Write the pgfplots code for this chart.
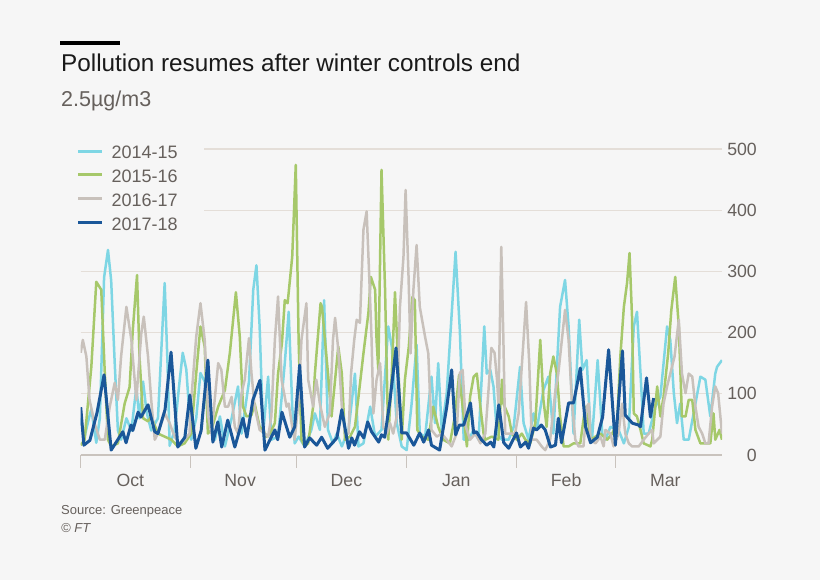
\documentclass[border=0pt]{standalone}
\usepackage{fontspec}
\setmainfont{Liberation Sans}
\usepackage{pgfplots}
\pgfplotsset{compat=1.18}
\definecolor{bgc}{HTML}{F6F6F6}
\definecolor{cA}{HTML}{7ED6E4}
\definecolor{cB}{HTML}{A6C86A}
\definecolor{cC}{HTML}{C8C1BB}
\definecolor{cD}{HTML}{1A5799}
\definecolor{gridc}{HTML}{E4DED8}
\definecolor{axisc}{HTML}{C9C3BD}
\definecolor{grayt}{HTML}{66605C}
\definecolor{titlec}{HTML}{1A1A1A}
\begin{document}
\begin{tikzpicture}[x=1bp,y=1bp]
\fill[bgc] (0,0) rectangle (820,580);
\useasboundingbox (0,0) rectangle (820,580);
\fill[black] (60,535) rectangle (120,539);
\node[anchor=base west, inner sep=0pt, font=\fontsize{24.3bp}{28bp}\selectfont, text=titlec] at (61,508) {Pollution resumes after winter controls end};
\node[anchor=base west, inner sep=0pt, font=\fontsize{21.5bp}{24bp}\selectfont, text=grayt] at (61,473) {2.5µg/m3};
\node[anchor=base west, inner sep=0pt, font=\fontsize{13bp}{16bp}\selectfont, text=grayt] at (61,65) {Source: Greenpeace};
\node[anchor=base west, inner sep=0pt, font=\fontsize{13bp}{16bp}\selectfont\itshape, text=grayt] at (61,47) {© FT};
\begin{axis}[
  at={(80.7bp,125bp)}, anchor=south west,
  scale only axis, width=641.3bp, height=306bp,
  xmin=0, xmax=181, ymin=0, ymax=500,
  axis x line*=bottom, axis y line*=right,
  x axis line style={draw=axisc, line width=1.2bp, -},
  y axis line style={draw=none},
  ytick={0,100,200,300,400,500},
  ymajorgrids, grid style={draw=gridc, line width=1.2bp},
  ytick style={draw=none},
  /pgf/number format/assume math mode=true,
  yticklabel style={anchor=east, inner sep=0pt, xshift=35bp, font=\fontsize{17.7bp}{20bp}\selectfont, text=grayt},
  xtick={14,45,75,106,137,165}, xticklabels={Oct,Nov,Dec,Jan,Feb,Mar},
  major tick length=0bp,
  xticklabel style={anchor=base, inner sep=0pt, yshift=-32bp, font=\fontsize{17.7bp}{20bp}\selectfont, text=grayt},
  extra x ticks={0,31,61,92,123,151}, extra x tick labels={},
  extra x tick style={major tick length=13bp, tick align=outside, xtick style={draw=axisc, line width=1.2bp}},
  legend style={at={(axis description cs:0,1)}, anchor=north west, xshift=-4.2bp, yshift=3.5bp,
    fill=bgc, draw=none, inner sep=0pt, font=\fontsize{18bp}{18bp}\selectfont, text=grayt, row sep=10.8bp,
    nodes={inner sep=0pt, text height=13bp, text depth=0bp},
    /tikz/every odd column/.append style={column sep=8bp}},
  legend cell align=left,
  legend image code/.code={\draw[#1, line width=3bp, line cap=butt] (0bp,1bp) -- (24bp,1bp);},
  every axis plot/.append style={line join=round, no markers},
]
\addplot[color=cA, line width=2.5bp] coordinates {
(0,60) (1.1,30) (2.1,55) (3.0,75) (4.4,20) (5.4,60) (6.6,290) (7.7,335) (8.6,285) (9.6,150) (10.5,40) (11.4,25) (12.9,60) (14.3,40) (15.7,110) (16.6,60) (17.6,120) (18.6,70) (19.9,40) (21.8,60) (23.0,200) (23.7,281) (24.5,150) (25.1,15) (26.5,40) (27.9,120) (28.8,167) (29.8,140) (31.2,25) (32.6,60) (33.8,134) (35.0,120) (36.0,60) (37.9,25) (39.3,63) (40.7,14) (42.6,60) (44.4,112) (45.4,35) (47.5,120) (48.7,270) (49.6,310) (50.5,210) (51.5,35) (52.9,128) (53.8,25) (55.7,30) (57.6,150) (58.7,234) (59.7,79) (60.4,19) (61.5,30) (63.2,14) (65.1,41) (66.1,68) (67.5,41) (68.7,253) (69.8,41) (71.2,19) (72.3,35) (73.7,14) (75.6,41) (77.4,133) (78.4,14) (79.8,19) (81.7,79) (83.1,30) (84.9,41) (86.8,210) (87.8,177) (89.2,52) (90.6,14) (92.0,8) (93.4,84) (94.8,180) (95.7,35) (97.2,30) (99.0,128) (100.0,52) (100.9,150) (101.9,41) (103.3,101) (105.8,332) (107.0,204) (108.1,25) (109.5,25) (110.9,41) (112.3,25) (113.9,210) (114.6,133) (115.6,139) (116.5,112) (117.5,35) (118.9,25) (120.8,25) (122.2,46) (124.0,144) (125.0,52) (126.4,25) (127.8,68) (128.7,41) (130.6,106) (132.0,128) (133.4,35) (135.3,242) (136.7,286) (137.7,210) (139.1,35) (140.7,221) (141.6,139) (142.8,155) (143.9,41) (144.3,25) (145.9,155) (147.2,35) (148.1,25) (149.5,46) (151.8,41) (153.3,19) (154.7,46) (156.1,210) (157.0,234) (158.0,133) (158.9,35) (160.3,35) (162.2,79) (163.6,95) (165.5,210) (166.4,188) (167.4,101) (168.3,52) (169.2,84) (170.2,25) (171.6,25) (173.5,84) (174.9,128) (176.3,123) (177.7,63) (179.1,133) (179.6,144) (181.0,155)
};
\addlegendentry{2014-15\hspace*{26.5bp}}
\addplot[color=cB, line width=2.5bp] coordinates {
(0,16) (1.1,25) (3.0,144) (4.4,283) (5.8,270) (6.8,134) (7.7,25) (8.6,14) (10.5,19) (12.4,84) (13.8,111) (14.7,204) (15.9,294) (16.6,160) (17.6,60) (19.0,55) (19.9,63) (21.8,35) (23.7,30) (25.6,25) (27.4,14) (29.3,19) (31.2,35) (32.6,133) (33.8,210) (35.0,177) (35.9,35) (36.9,41) (38.8,79) (40.7,106) (42.1,167) (43.8,266) (44.9,193) (45.8,79) (46.8,63) (48.2,65) (49.1,84) (50.5,46) (51.5,41) (52.4,30) (53.4,35) (54.8,52) (55.7,133) (56.8,183) (57.6,253) (58.4,248) (59.7,324) (60.7,474) (61.5,188) (62.3,25) (63.2,14) (64.2,19) (65.6,79) (66.1,133) (67.7,248) (68.1,242) (69.8,133) (70.8,63) (72.7,177) (73.7,133) (74.6,25) (76.0,30) (77.4,46) (78.4,95) (79.8,166) (81.2,232) (81.9,291) (83.1,270) (83.5,188) (84.0,139) (84.9,466) (85.9,270) (86.8,25) (87.8,133) (88.7,266) (89.7,133) (90.6,25) (91.5,123) (92.6,177) (93.6,258) (94.3,253) (95.0,41) (96.2,30) (98.1,25) (99.5,79) (100.9,46) (102.3,25) (104.2,19) (105.6,63) (106.8,131) (108.1,63) (109.0,14) (109.9,95) (110.9,128) (111.8,133) (112.8,79) (113.7,35) (114.2,25) (116.0,30) (117.9,25) (118.9,123) (119.3,84) (120.8,63) (121.7,35) (123.1,25) (124.5,35) (125.5,25) (126.9,19) (128.3,52) (129.7,188) (130.6,90) (131.5,46) (132.5,133) (133.4,161) (134.4,133) (135.3,63) (136.3,14) (137.7,14) (139.1,19) (141.0,19) (142.4,79) (143.3,52) (143.9,25) (145.3,30) (146.7,35) (148.6,25) (150.0,35) (151.4,52) (152.3,161) (153.3,242) (154.2,281) (154.9,330) (155.6,226) (156.1,68) (157.0,63) (158.0,41) (158.9,19) (160.8,14) (161.3,25) (162.7,112) (163.6,63) (164.5,95) (165.8,166) (166.7,237) (167.8,291) (168.8,210) (169.7,63) (170.7,63) (171.6,90) (172.6,90) (173.5,41) (174.9,19) (176.3,19) (177.7,19) (178.6,68) (179.1,25) (180.3,41) (181.0,25)
};
\addlegendentry{2015-16\hspace*{26.5bp}}
\addplot[color=cC, line width=2.5bp] coordinates {
(0,167) (0.6,188) (1.6,161) (2.5,90) (3.9,52) (5.4,25) (6.8,25) (8.2,79) (9.6,118) (10.5,90) (11.4,161) (12.9,242) (14.3,188) (15.7,90) (17.1,199) (17.8,226) (19.0,161) (19.9,90) (20.9,25) (21.8,35) (23.7,68) (25.1,52) (26.5,30) (27.9,19) (29.3,25) (30.7,35) (31.2,90) (32.6,193) (33.8,248) (35.0,188) (36.0,63) (36.9,35) (37.9,95) (38.8,150) (39.7,139) (40.7,79) (41.6,79) (42.6,95) (43.5,46) (44.4,35) (45.4,101) (46.3,123) (47.5,191) (48.2,133) (49.1,79) (50.5,41) (52.0,35) (52.9,30) (53.8,63) (54.8,188) (55.7,259) (56.7,123) (58.1,79) (58.7,84) (59.7,46) (60.4,25) (61.5,90) (62.3,188) (63.7,248) (64.2,123) (65.6,79) (66.5,123) (67.5,84) (68.9,46) (70.3,68) (71.2,188) (71.8,224) (72.7,172) (73.7,79) (74.6,35) (75.6,35) (76.3,133) (77.2,188) (77.9,221) (78.8,216) (79.8,368) (80.7,398) (81.4,297) (82.1,188) (82.6,68) (83.5,123) (84.5,150) (85.4,46) (86.4,35) (87.3,52) (88.2,35) (89.2,63) (90.1,242) (91.1,324) (91.7,433) (92.5,297) (93.1,166) (93.9,270) (94.8,343) (95.7,242) (97.2,193) (98.1,166) (99.0,41) (100.5,30) (101.9,35) (103.3,25) (104.7,14) (106.1,35) (107.0,134) (107.8,139) (108.7,46) (109.9,25) (111.4,35) (112.8,19) (114.2,35) (115.1,106) (115.9,175) (116.8,167) (117.5,123) (117.9,84) (118.7,340) (119.3,188) (119.8,35) (121.2,35) (122.6,35) (123.6,68) (124.8,172) (125.7,250) (126.6,150) (127.3,25) (128.7,25) (130.1,14) (131.1,8) (132.5,25) (133.9,101) (134.8,133) (135.8,188) (136.7,237) (137.7,188) (138.6,90) (139.6,25) (140.5,14) (141.9,14) (142.8,79) (143.4,84) (143.9,25) (145.3,19) (146.7,30) (147.6,14) (148.1,41) (149.5,35) (150.4,14) (151.8,35) (152.8,84) (153.7,35) (154.7,19) (155.6,14) (157.5,14) (158.9,25) (160.3,35) (161.3,41) (161.7,19) (163.6,30) (164.5,84) (165.5,112) (166.4,133) (167.6,161) (168.8,221) (169.7,133) (170.7,101) (171.6,133) (172.6,128) (173.5,79) (174.4,46) (175.4,35) (176.3,19) (177.2,19) (178.2,79) (179.1,112) (179.9,101) (181.0,35)
};
\addlegendentry{2016-17\hspace*{26.5bp}}
\addplot[color=cD, line width=3bp] coordinates {
(0,78) (0.9,16) (2.6,24) (4.6,69) (6.6,131) (8.6,8) (11.9,38) (12.8,20) (14.2,49) (14.7,40) (16.2,70) (17.0,62) (19.0,82) (20.9,38) (21.8,35) (23.8,74) (25.5,168) (27.4,13) (29.4,29) (30.8,98) (32.5,11) (34.0,40) (35.9,155) (37.3,21) (38.7,54) (39.8,13) (41.5,57) (43.5,13) (45.8,60) (46.9,29) (48.6,90) (50.6,122) (52.0,8) (54.8,41) (55.6,25) (56.8,70) (59.0,29) (60.4,46) (61.8,147) (63.2,13) (64.6,28) (66.6,16) (68.0,29) (69.7,11) (72.3,28) (73.7,74) (75.6,11) (76.5,28) (77.3,16) (78.7,38) (79.9,28) (81.0,54) (82.1,38) (84.1,21) (84.9,33) (85.8,29) (87.2,85) (89.0,175) (90.6,36) (92.0,36) (94.0,16) (95.7,36) (96.8,21) (98.2,41) (99.0,16) (101.3,8) (103.3,78) (104.7,139) (105.8,33) (106.9,49) (108.1,49) (110.0,85) (110.9,36) (111.7,38) (113.1,25) (114.6,16) (115.7,21) (116.6,13) (118.0,82) (119.4,20) (120.8,11) (123.0,36) (124.1,13) (125.6,21) (126.4,11) (127.8,44) (128.7,41) (130.0,49) (131.1,41) (132.6,13) (134.0,16) (134.8,60) (135.7,20) (137.7,85) (139.1,85) (141.0,142) (142.5,46) (143.9,20) (145.8,29) (147.3,62) (149.0,172) (150.9,16) (152.9,170) (153.7,65) (155.7,52) (157.4,49) (158.0,46) (159.7,126) (160.8,62) (161.7,93)
};
\addlegendentry{2017-18\hspace*{26.5bp}}
\end{axis}
\end{tikzpicture}
\end{document}
